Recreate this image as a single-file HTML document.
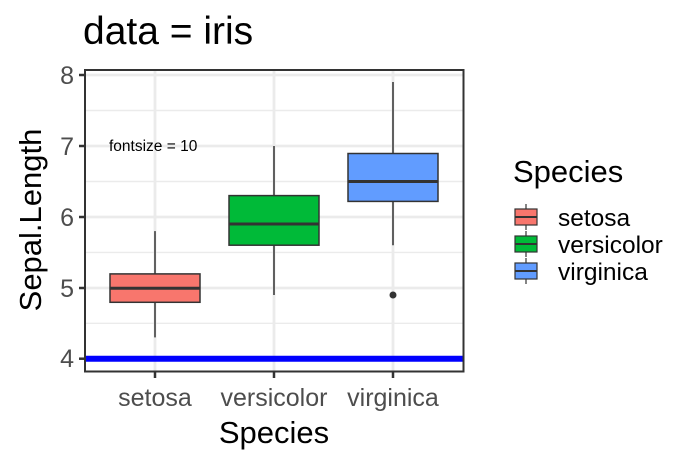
<!DOCTYPE html>
<html><head><style>body{margin:0;background:#fff}</style></head><body>
<svg width="700" height="466" xmlns="http://www.w3.org/2000/svg" font-family="Liberation Sans, Arial, sans-serif">
<rect width="700" height="466" fill="#fff"/>
<text x="83" y="44" font-size="39" fill="#000">data = iris</text>
<g stroke="#ebebeb">
<g stroke-width="1.4">
<line x1="85" x2="463" y1="110.5" y2="110.5"/><line x1="85" x2="463" y1="181.5" y2="181.5"/>
<line x1="85" x2="463" y1="252.4" y2="252.4"/><line x1="85" x2="463" y1="323.3" y2="323.3"/>
</g>
<g stroke-width="2.8">
<line x1="85" x2="463" y1="75" y2="75"/><line x1="85" x2="463" y1="146" y2="146"/>
<line x1="85" x2="463" y1="217" y2="217"/><line x1="85" x2="463" y1="288" y2="288"/>
<line x1="155" x2="155" y1="70" y2="371"/><line x1="274" x2="274" y1="70" y2="371"/><line x1="393" x2="393" y1="70" y2="371"/>
</g></g>
<text x="109" y="151" font-size="15.5" fill="#000">fontsize = 10</text>
<g stroke="#333" stroke-width="1.5">
<line x1="155" x2="155" y1="337.4" y2="231.1"/>
<rect x="110" y="273.9" width="90" height="28.4" fill="#F8766D"/>
<line x1="110" x2="200" y1="288.2" y2="288.2" stroke-width="3"/>
<line x1="274" x2="274" y1="295.0" y2="146"/>
<rect x="229" y="195.6" width="90" height="49.6" fill="#00BA38"/>
<line x1="229" x2="319" y1="224" y2="224" stroke-width="3"/>
<line x1="393" x2="393" y1="245.3" y2="82"/>
<rect x="348" y="153.5" width="90" height="47.9" fill="#619CFF"/>
<line x1="348" x2="438" y1="181.5" y2="181.5" stroke-width="3"/>
</g>
<circle cx="393" cy="295" r="3.5" fill="#333"/>
<line x1="85" x2="463" y1="358.7" y2="358.7" stroke="#0000ff" stroke-width="6"/>
<rect x="85" y="70" width="378.5" height="301.5" fill="none" stroke="#333" stroke-width="2"/>
<g stroke="#333" stroke-width="2.5">
<line x1="79" x2="85" y1="75" y2="75"/><line x1="79" x2="85" y1="146" y2="146"/><line x1="79" x2="85" y1="217" y2="217"/><line x1="79" x2="85" y1="288" y2="288"/><line x1="79" x2="85" y1="358.7" y2="358.7"/>
<line x1="155" x2="155" y1="372" y2="378"/><line x1="274" x2="274" y1="372" y2="378"/><line x1="393" x2="393" y1="372" y2="378"/>
</g>
<g font-size="25" fill="#4d4d4d" text-anchor="end">
<text x="74" y="84">8</text><text x="74" y="155">7</text><text x="74" y="226">6</text><text x="74" y="297">5</text><text x="74" y="367">4</text>
</g>
<g font-size="25" fill="#4d4d4d" text-anchor="middle">
<text x="155" y="406">setosa</text><text x="274" y="406">versicolor</text><text x="393" y="406">virginica</text>
</g>
<text x="274" y="443" font-size="31" text-anchor="middle">Species</text>
<text transform="translate(41,220) rotate(-90)" font-size="31" text-anchor="middle">Sepal.Length</text>
<text x="513" y="182" font-size="31">Species</text>
<g stroke="#333" stroke-width="1.2">
<line x1="526" x2="526" y1="204" y2="230"/><rect x="515" y="209" width="22" height="16" fill="#F8766D"/><line x1="515" x2="537" y1="217" y2="217" stroke-width="2"/>
<line x1="526" x2="526" y1="231" y2="257"/><rect x="515" y="236" width="22" height="16" fill="#00BA38"/><line x1="515" x2="537" y1="244" y2="244" stroke-width="2"/>
<line x1="526" x2="526" y1="258" y2="284"/><rect x="515" y="263" width="22" height="16" fill="#619CFF"/><line x1="515" x2="537" y1="271" y2="271" stroke-width="2"/>
</g>
<g font-size="24.5" fill="#000">
<text x="558" y="226">setosa</text><text x="558" y="253">versicolor</text><text x="558" y="280">virginica</text>
</g>
</svg>
</body></html>
